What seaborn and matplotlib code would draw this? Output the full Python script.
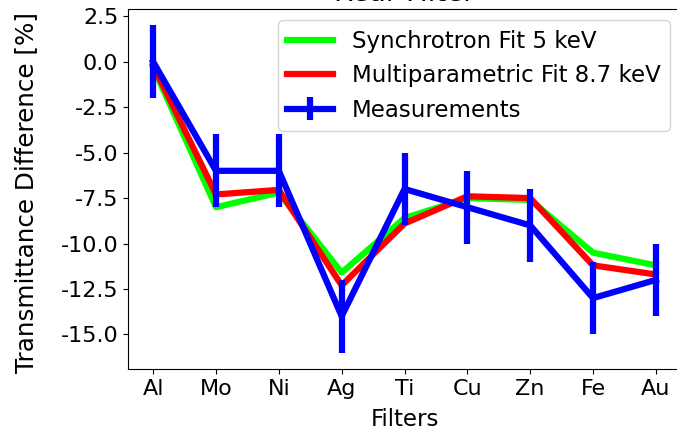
import matplotlib
matplotlib.use("Agg")
import matplotlib.pyplot as plt
from matplotlib.ticker import MultipleLocator, FormatStrFormatter
import seaborn as sns
import pandas as pd

filters = ["Al", "Mo", "Ni", "Ag", "Ti", "Cu", "Zn", "Fe", "Au"]
synchrotron_fit = [-0.3, -8.0, -7.2, -11.6, -8.6, -7.5, -7.6, -10.5, -11.2]
multiparametric_fit = [-0.2, -7.3, -7.05, -12.3, -8.9, -7.4, -7.5, -11.2, -11.7]
measurements = [0.0, -6.0, -6.0, -14.0, -7.0, -8.0, -9.0, -13.0, -12.0]
measurement_err = [2, 2, 2, 2, 2, 2, 2, 2, 2]

plt.rcParams["font.size"] = 16.5
plt.rcParams["font.family"] = ["DejaVu Sans"]

df = pd.DataFrame({
    "Filters": filters,
    "synch": synchrotron_fit,
    "multi": multiparametric_fit,
    "meas": measurements,
    "err": measurement_err,
})

fig = plt.figure(figsize=(6.77, 4.34), dpi=100)
ax = fig.add_axes([128 / 677, (434 - 369) / 434, (681 - 128) / 677, 360 / 434])

sns.lineplot(data=df, x="Filters", y="synch", color="#00ff00", linewidth=4.5,
             label="Synchrotron Fit 5 keV", ax=ax, sort=False)
sns.lineplot(data=df, x="Filters", y="multi", color="#ff0000", linewidth=4.5,
             label="Multiparametric Fit 8.7 keV", ax=ax, sort=False)
ax.errorbar(df["Filters"], df["meas"], yerr=df["err"], color="#0000ff",
            linewidth=4.5, elinewidth=4.5, label="Measurements")

ax.yaxis.set_major_locator(MultipleLocator(2.5))
ax.yaxis.set_major_formatter(FormatStrFormatter("%.1f"))
ax.tick_params(labelsize=16)

ax.set_xlabel("Filters", labelpad=6.5)
ax.set_ylabel("Transmittance Difference [%]", fontsize=17.7)
ax.yaxis.set_label_coords(-0.163, 0.49)
ax.set_title("Rear Filter", pad=5.5)
ax.legend(loc="upper right")

fig.savefig("out.png", dpi=100)
